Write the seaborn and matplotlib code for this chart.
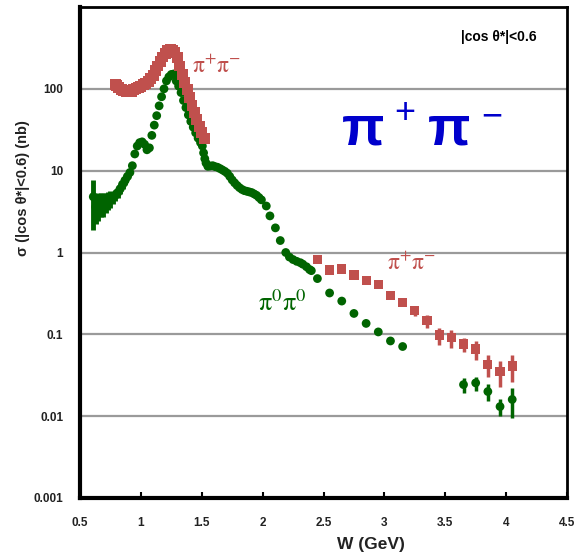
import numpy as np
import pandas as pd
import matplotlib
matplotlib.use("Agg")
import matplotlib.pyplot as plt
import seaborn as sns

# ---------------- data ----------------
# pi+ pi- (red), dense low-W band
red_low_W = [0.79, 0.80, 0.82, 0.84, 0.86, 0.88, 0.90, 0.92, 0.94, 0.96, 0.98,
             1.00, 1.02, 1.04, 1.06, 1.08, 1.10, 1.12, 1.14, 1.16, 1.18, 1.20,
             1.22, 1.24, 1.26, 1.28, 1.30, 1.32, 1.34, 1.36, 1.38, 1.40, 1.42,
             1.44, 1.46, 1.48, 1.50, 1.52]
red_low_sigma = [112, 110, 104, 99, 96, 94, 93, 94, 97, 101, 105,
                 108, 112, 117, 123, 132, 147, 167, 190, 215, 245, 270,
                 292, 300, 296, 280, 240, 190, 150, 120, 97, 78, 63,
                 51, 42, 35, 29, 25]

# pi+ pi- (red), high-W points with errors
red_high_W = [2.45, 2.55, 2.65, 2.75, 2.85, 2.95, 3.05, 3.15, 3.25, 3.35,
              3.45, 3.55, 3.65, 3.75, 3.85, 3.95, 4.05]
red_high_sigma = [0.82, 0.61, 0.63, 0.53, 0.45, 0.41, 0.30, 0.243, 0.194, 0.146,
                  0.098, 0.091, 0.076, 0.066, 0.043, 0.035, 0.041]
red_high_err = [0.0, 0.0, 0.0, 0.0, 0.0, 0.0, 0.01, 0.015, 0.027, 0.025,
                0.023, 0.022, 0.015, 0.017, 0.013, 0.012, 0.015]

# pi0 pi0 (green), low-W band with large errors
green_low_W = [0.61, 0.63, 0.65, 0.67, 0.69, 0.71, 0.73, 0.75, 0.77, 0.79,
               0.81, 0.83, 0.85, 0.87, 0.89]
green_low_sigma = [4.8, 3.6, 3.9, 4.0, 4.0, 4.2, 4.4, 4.6, 4.7, 5.0,
                   5.4, 6.0, 6.8, 7.6, 8.5]
green_low_err = [2.9, 1.4, 1.5, 1.3, 1.3, 1.2, 1.1, 1.1, 0.8, 0.8,
                 0.8, 0.8, 0.8, 0.9, 0.8]

# pi0 pi0 (green), dense mid-W points
green_mid_W = [0.91, 0.93, 0.95, 0.97, 0.99, 1.01, 1.03, 1.05, 1.07, 1.09,
               1.11, 1.13, 1.15, 1.17, 1.19, 1.21, 1.23, 1.25, 1.27, 1.29,
               1.31, 1.33, 1.35, 1.37, 1.39, 1.41, 1.43, 1.45, 1.47, 1.49,
               1.505, 1.515, 1.525, 1.535, 1.55, 1.57, 1.59, 1.61, 1.63, 1.65,
               1.67, 1.69, 1.71, 1.73, 1.75, 1.77, 1.79, 1.81, 1.83, 1.85,
               1.87, 1.89, 1.91, 1.93, 1.95, 1.97, 1.99, 2.03, 2.06, 2.105,
               2.145, 2.19, 2.22, 2.25, 2.28, 2.31, 2.33, 2.36, 2.385, 2.40]
green_mid_sigma = [9.5, 11.5, 16, 20, 22, 22.5, 21, 18, 19, 27,
                   36, 47, 62, 80, 100, 125, 140, 150, 152, 125,
                   108, 90, 72, 59, 48, 40, 34, 29, 25, 22,
                   20, 16.5, 14, 12.4, 11.3, 11.4, 11.5, 11.2, 11.0, 10.6,
                   10.2, 9.8, 9.3, 8.5, 7.7, 7.1, 6.6, 6.2, 5.9, 5.7,
                   5.6, 5.5, 5.4, 5.2, 5.0, 4.7, 4.4, 3.7, 2.8, 2.0,
                   1.4, 1.0, 0.88, 0.82, 0.78, 0.75, 0.72, 0.67, 0.62, 0.60]

# pi0 pi0 (green), high-W points with errors
green_high_W = [2.45, 2.55, 2.65, 2.75, 2.85, 2.95, 3.05, 3.15,
                3.65, 3.75, 3.85, 3.95, 4.05]
green_high_sigma = [0.48, 0.32, 0.255, 0.18, 0.136, 0.107, 0.083, 0.071,
                    0.0243, 0.0255, 0.020, 0.0131, 0.016]
green_high_err = [0, 0, 0, 0, 0, 0, 0, 0,
                  0.0053, 0.005, 0.0046, 0.003, 0.0064]

y_ticks = [0.001, 0.01, 0.1, 1, 10, 100]
y_tick_labels = ["0.001", "0.01", "0.1", "1", "10", "100"]
x_ticks = [0.5, 1, 1.5, 2, 2.5, 3, 3.5, 4, 4.5]
x_tick_labels = ["0.5", "1", "1.5", "2", "2.5", "3", "3.5", "4", "4.5"]

RED = "#C0504D"
GREEN = "#006400"
BLUE = "#0000CC"

# ---------------- plot ----------------
sns.set_theme(style="white")
plt.rcParams['font.family'] = ['Liberation Sans', 'DejaVu Sans']

W_PX, H_PX = 580, 560
fig = plt.figure(figsize=(W_PX / 100, H_PX / 100), dpi=100)
ax = fig.add_axes([80 / W_PX, 1 - 498 / H_PX, 487 / W_PX, 491 / H_PX])
ax.set_yscale("log")
ax.set_xlim(0.5, 4.5)
ax.set_ylim(0.001, 1000)

for yt in y_ticks + [1000]:
    ax.axhline(yt, color="#9a9a9a", lw=1.6, zorder=0)

df_rl = pd.DataFrame({"W": red_low_W, "sigma": red_low_sigma})
df_rh = pd.DataFrame({"W": red_high_W, "sigma": red_high_sigma, "err": red_high_err})
df_gl = pd.DataFrame({"W": green_low_W, "sigma": green_low_sigma, "err": green_low_err})
df_gm = pd.DataFrame({"W": green_mid_W, "sigma": green_mid_sigma})
df_gh = pd.DataFrame({"W": green_high_W, "sigma": green_high_sigma, "err": green_high_err})

# error bars
ax.errorbar(df_gl["W"], df_gl["sigma"], yerr=df_gl["err"], fmt="none",
            ecolor=GREEN, elinewidth=3.5, capsize=0, zorder=2)
ax.errorbar(df_gh["W"], df_gh["sigma"], yerr=df_gh["err"], fmt="none",
            ecolor=GREEN, elinewidth=2.5, capsize=0, zorder=2)
ax.errorbar(df_rh["W"], df_rh["sigma"], yerr=df_rh["err"], fmt="none",
            ecolor=RED, elinewidth=2.5, capsize=0, zorder=2)

sns.scatterplot(data=df_gl, x="W", y="sigma", marker="o", s=42, color=GREEN,
                edgecolor="none", ax=ax, legend=False, zorder=3)
sns.scatterplot(data=df_gm, x="W", y="sigma", marker="o", s=40, color=GREEN,
                edgecolor="none", ax=ax, legend=False, zorder=3)
sns.scatterplot(data=df_gh, x="W", y="sigma", marker="o", s=40, color=GREEN,
                edgecolor="none", ax=ax, legend=False, zorder=3)
sns.scatterplot(data=df_rl, x="W", y="sigma", marker="s", s=62, color=RED,
                edgecolor="none", ax=ax, legend=False, zorder=4)
sns.scatterplot(data=df_rh, x="W", y="sigma", marker="s", s=44, color=RED,
                edgecolor="none", ax=ax, legend=False, zorder=4)

# axes styling
ax.set_yticks(y_ticks)
ax.set_yticklabels(y_tick_labels)
ax.set_xticks(x_ticks)
ax.set_xticklabels(x_tick_labels)
ax.minorticks_off()
ax.tick_params(axis="y", which="both", length=0, pad=12, labelsize=8.5)
ax.tick_params(axis="x", which="both", direction="in", length=4, width=1.5,
               color="black", pad=14, labelsize=8.5, bottom=True)
for lab in ax.get_xticklabels() + ax.get_yticklabels():
    lab.set_fontweight("bold")
    lab.set_color("#222222")

for side in ["left", "bottom"]:
    ax.spines[side].set_linewidth(3)
    ax.spines[side].set_color("black")
for side in ["top", "right"]:
    ax.spines[side].set_linewidth(2)
    ax.spines[side].set_color("black")
ax.set_xlabel("")
ax.set_ylabel("")

fig.text(371 / W_PX, 1 - 545 / H_PX, "W (GeV)", ha="center", va="center",
         fontsize=12.5, fontweight="bold", color="#222222")
fig.text(23 / W_PX, 1 - 188 / H_PX, "σ (|cos θ*|<0.6) (nb)", ha="center",
         va="center", rotation=90, fontsize=10.5, fontweight="bold", color="#222222")

# annotations
fig.text(537 / W_PX, 1 - 37 / H_PX, "|cos θ*|<0.6", ha="right", va="center",
         fontsize=10, fontweight="bold", color="black")

fig.text(342 / W_PX, 1 - 130 / H_PX, "π", ha="left", va="center",
         fontsize=40, fontweight="bold", color=BLUE)
fig.text(405 / W_PX, 1 - 114 / H_PX, "+", ha="center", va="center",
         fontsize=26, color=BLUE)
fig.text(428 / W_PX, 1 - 130 / H_PX, "π", ha="left", va="center",
         fontsize=40, fontweight="bold", color=BLUE)
fig.text(492 / W_PX, 1 - 117 / H_PX, "−", ha="center", va="center",
         fontsize=26, color=BLUE)

fig.text(192 / W_PX, 1 - 67 / H_PX, r"$\mathrm{\pi^{+}\pi^{-}}$", ha="left",
         va="center", fontsize=17, color=RED, math_fontfamily="stix")
fig.text(387 / W_PX, 1 - 264 / H_PX, r"$\mathrm{\pi^{+}\pi^{-}}$", ha="left",
         va="center", fontsize=17, color=RED, math_fontfamily="stix")
fig.text(258 / W_PX, 1 - 303 / H_PX, r"$\mathrm{\pi^{0}\pi^{0}}$", ha="left",
         va="center", fontsize=19, color=GREEN, math_fontfamily="stix")

fig.savefig("out.png", dpi=100)
